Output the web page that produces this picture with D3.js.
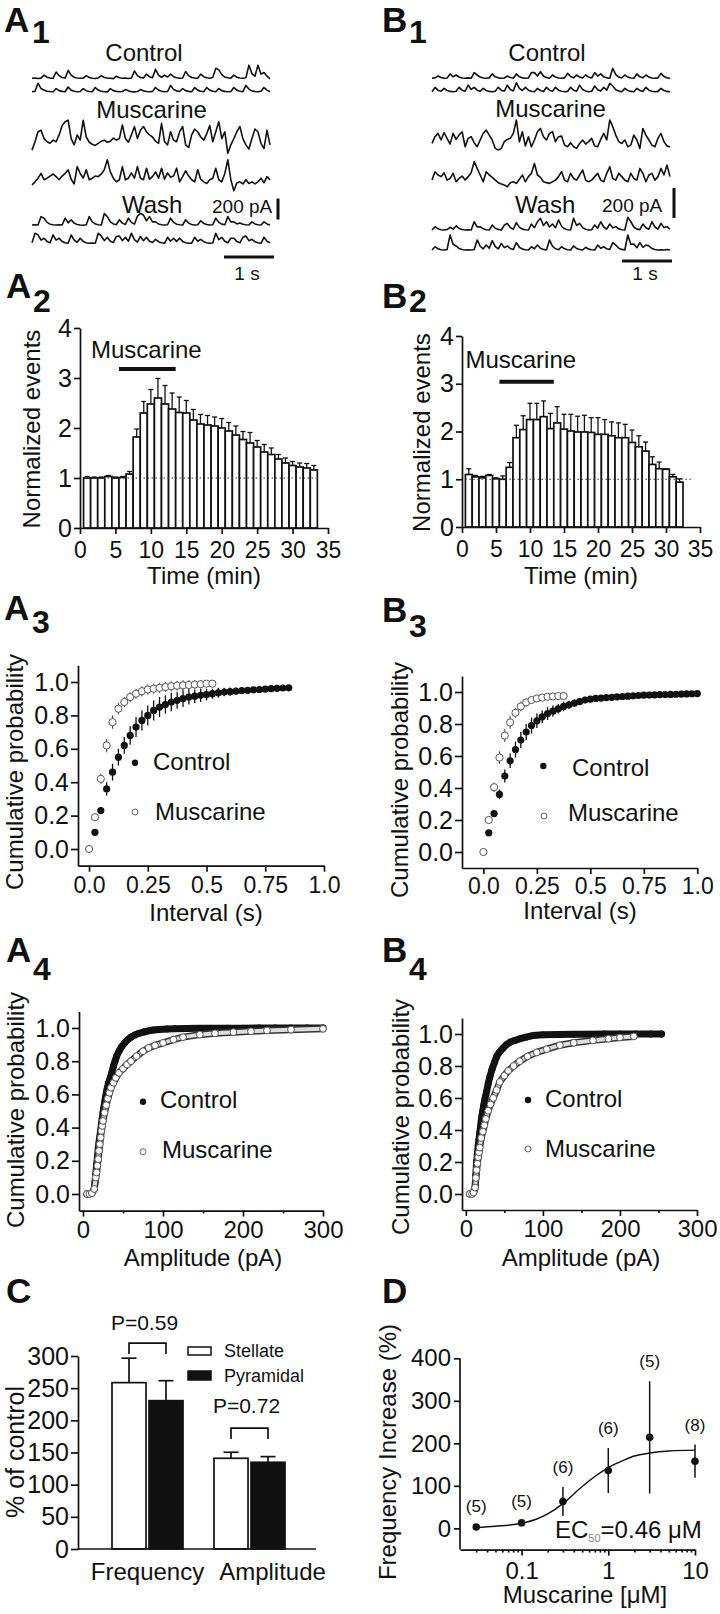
<!DOCTYPE html>
<html>
<head>
<meta charset="utf-8">
<script src="https://cdn.jsdelivr.net/npm/d3@7/dist/d3.min.js"></script>
<style>
html,body{margin:0;padding:0;background:#fff;}
svg{display:block;}
</style>
</head>
<body>
<svg id="fig" width="720" height="1614" xmlns="http://www.w3.org/2000/svg"></svg>
<script>
// ================= DATA =================
// A1 / B1 : example current traces (pA, upward deflection), 80 samples over 4.76 s
const traceDuration = 4.76;
const a1Control1 = [0,3,-2,2,30,10,2,0,60,25,8,2,75,30,10,3,0,2,25,8,0,-2,3,25,8,2,0,-3,20,6,0,2,-2,3,70,25,8,3,40,15,5,85,30,10,30,12,40,15,5,0,3,65,25,8,2,0,40,15,5,0,8,95,80,35,12,5,2,30,10,3,0,5,125,45,20,125,40,55,20,-5];
const a1Control2 = [0,5,80,30,15,5,2,0,30,10,3,0,45,15,5,0,2,30,10,2,0,40,15,5,0,-2,30,10,3,0,2,20,8,0,-2,2,20,8,2,0,3,40,15,5,0,2,60,20,8,2,30,10,3,0,40,15,5,0,40,15,5,0,30,10,3,0,2,40,15,5,0,60,25,8,2,0,5,40,15,0];
const a1Musc1 = [15,95,190,205,125,95,80,110,95,160,250,285,300,125,65,160,110,300,140,90,70,60,80,100,110,90,100,130,110,125,255,125,90,160,240,125,205,240,190,160,140,100,80,270,95,65,190,110,95,190,240,65,40,160,215,190,140,110,170,250,95,190,285,125,190,-15,65,125,190,240,125,65,25,125,215,190,80,30,205,65];
const a1Musc2 = [0,30,65,110,50,65,85,105,80,50,85,110,145,55,10,175,110,65,145,50,65,85,80,105,145,240,125,65,30,50,175,50,65,115,65,175,65,50,160,55,80,125,65,160,55,115,75,85,160,30,80,135,85,50,30,145,55,30,15,50,65,160,50,30,110,240,50,-55,20,30,10,50,15,30,10,30,65,20,80,50];
const a1Wash1 = [0,3,0,80,65,25,8,2,0,3,0,65,20,50,18,5,0,-2,3,80,30,10,3,0,110,80,30,10,3,50,18,5,65,25,8,85,110,95,40,80,30,30,10,3,0,2,65,25,8,2,0,50,18,5,0,2,40,15,5,0,2,65,25,8,3,80,30,30,10,20,8,2,0,30,10,3,0,30,10,0];
const a1Wash2 = [5,95,80,30,48,18,5,80,30,48,18,5,0,80,30,10,48,18,5,0,2,0,95,70,25,57,20,8,65,70,25,57,20,95,35,12,65,25,57,20,8,38,15,5,0,57,20,48,18,48,18,5,0,2,57,20,38,15,5,0,3,95,35,57,20,5,48,48,18,5,57,70,25,38,15,5,0,57,20,5];
const b1Control1 = [0,3,15,5,0,2,29,10,22,8,2,0,3,0,38,22,8,2,0,3,29,10,3,0,2,15,5,0,29,10,3,0,2,38,38,15,44,15,5,0,22,8,2,0,3,33,12,3,22,8,2,22,8,2,38,15,29,10,3,0,67,25,8,2,22,8,2,0,29,10,3,22,8,2,0,3,33,12,3,0];
const b1Control2 = [0,29,10,3,22,8,2,0,3,29,10,3,44,15,29,10,3,22,8,2,0,3,29,10,3,44,15,5,60,22,8,29,10,3,0,22,8,2,29,10,3,29,10,3,0,2,29,10,3,44,15,5,0,3,38,13,4,29,10,55,38,13,4,0,22,8,2,0,22,8,2,29,10,3,0,2,22,8,2,0];
const b1Musc1 = [55,100,122,78,127,89,51,122,82,111,133,33,89,100,60,33,78,122,144,111,78,22,11,22,67,82,89,122,211,67,133,38,100,33,78,133,155,100,78,122,133,67,100,104,44,33,60,33,22,55,78,51,67,89,38,33,82,122,78,211,167,111,67,55,78,33,44,111,78,22,155,111,78,44,33,89,122,67,38,33];
const b1Musc2 = [44,100,78,67,93,44,55,89,33,55,71,44,67,93,167,122,78,33,100,78,62,44,27,18,11,0,27,33,22,49,78,33,67,89,155,78,62,33,27,22,33,44,67,100,44,33,89,55,44,78,111,44,33,44,67,89,44,33,89,133,55,44,89,67,44,33,89,55,44,122,89,33,78,89,44,67,122,78,144,67];
const b1Wash1 = [0,22,8,2,0,3,18,6,27,10,3,0,2,0,55,20,22,8,2,0,33,12,4,0,33,44,16,5,49,18,6,2,0,40,15,55,78,30,55,20,40,15,67,25,8,2,0,78,30,44,16,5,0,2,33,12,55,20,6,40,15,22,8,2,0,84,55,20,6,2,40,15,5,55,20,6,44,16,22,5];
const b1Wash2 = [0,22,8,2,0,3,100,38,27,10,3,0,2,0,3,67,25,8,33,12,62,23,8,44,16,27,10,3,49,18,6,2,0,22,8,33,12,4,0,67,25,8,2,22,8,2,0,27,10,3,0,18,6,2,0,33,12,22,8,3,49,33,12,4,0,100,38,40,15,49,18,33,27,10,3,0,2,0,3,0];

// A2 / B2 : normalized events per minute
const a2Time = [1,2,3,4,5,6,7,8,9,10,11,12,13,14,15,16,17,18,19,20,21,22,23,24,25,26,27,28,29,30,31,32,33];
const a2Mean = [1.0,1.0,1.0,1.03,1.0,1.01,1.08,1.82,2.3,2.48,2.6,2.48,2.38,2.31,2.3,2.16,2.08,2.06,2.04,2.0,1.94,1.86,1.77,1.7,1.62,1.52,1.47,1.38,1.3,1.25,1.22,1.2,1.16];
const a2Sem  = [0.03,0.02,0.02,0.02,0.02,0.02,0.05,0.16,0.23,0.29,0.39,0.37,0.32,0.31,0.25,0.21,0.19,0.19,0.18,0.19,0.17,0.18,0.16,0.21,0.13,0.15,0.13,0.09,0.1,0.08,0.08,0.09,0.09];
const b2Time = [1,2,3,4,5,6,7,8,9,10,11,12,13,14,15,16,17,18,19,20,21,22,23,24,25,26,27,28,29,30,31,32];
const b2Mean = [1.1,1.05,1.03,1.08,1.01,1.0,1.25,1.87,2.04,2.25,2.25,2.31,2.06,2.18,2.05,2.01,1.99,1.99,1.98,1.94,1.94,1.91,1.87,1.87,1.77,1.68,1.59,1.31,1.22,1.21,1.05,0.94];
const b2Sem  = [0.12,0.03,0.03,0.02,0.02,0.07,0.1,0.26,0.29,0.34,0.34,0.33,0.32,0.34,0.31,0.35,0.33,0.35,0.31,0.35,0.31,0.29,0.31,0.28,0.26,0.23,0.19,0.16,0.14,0.01,0.05,0.07];
const muscarineWindow = [5.5, 13.5];
const timeTicks = [0,5,10,15,20,25,30,35];
const eventTicks = [0,1,2,3,4];

// A3 / B3 : cumulative probability of inter-event interval
const a3CtrlInterval = [0.025,0.05,0.075,0.1,0.125,0.15,0.175,0.2,0.225,0.25,0.275,0.3,0.325,0.35,0.375,0.4,0.425,0.45,0.475,0.5,0.525,0.55,0.575,0.6,0.625,0.65,0.675,0.7,0.725,0.75,0.775,0.8,0.825,0.85];
const a3CtrlProb = [0.10,0.23,0.36,0.46,0.55,0.62,0.68,0.73,0.77,0.80,0.83,0.85,0.865,0.88,0.89,0.90,0.91,0.915,0.92,0.925,0.93,0.935,0.94,0.942,0.945,0.948,0.95,0.953,0.955,0.957,0.96,0.962,0.964,0.965];
const a3CtrlSem = [0.01,0.02,0.04,0.05,0.05,0.05,0.055,0.06,0.06,0.06,0.06,0.06,0.055,0.055,0.05,0.05,0.045,0.04,0.04,0.035,0.03,0.03,0.025,0.025,0.02,0.02,0.02,0.015,0.015,0.015,0.01,0.01,0.01,0.01];
const a3MuscInterval = [0,0.025,0.05,0.075,0.1,0.125,0.15,0.175,0.2,0.225,0.25,0.275,0.3,0.325,0.35,0.375,0.4,0.425,0.45,0.475,0.5,0.525];
const a3MuscProb = [0,0.19,0.42,0.62,0.76,0.84,0.88,0.91,0.93,0.945,0.955,0.96,0.965,0.97,0.975,0.978,0.98,0.982,0.985,0.987,0.99,0.99];
const a3MuscSem = [0,0.02,0.03,0.04,0.04,0.035,0.03,0.03,0.03,0.03,0.03,0.03,0.03,0.03,0.03,0.03,0.03,0.03,0.025,0.025,0.02,0.02];
const b3CtrlInterval = [0.025,0.05,0.075,0.1,0.125,0.15,0.175,0.2,0.225,0.25,0.275,0.3,0.325,0.35,0.375,0.4,0.425,0.45,0.475,0.5,0.525,0.55,0.575,0.6,0.625,0.65,0.675,0.7,0.725,0.75,0.775,0.8,0.825,0.85,0.875,0.9,0.925,0.95,0.975,1.0];
const b3CtrlProb = [0.12,0.24,0.36,0.475,0.57,0.64,0.70,0.75,0.79,0.82,0.845,0.865,0.88,0.895,0.91,0.92,0.93,0.94,0.95,0.955,0.96,0.962,0.965,0.967,0.97,0.972,0.974,0.976,0.978,0.98,0.981,0.982,0.983,0.984,0.985,0.986,0.987,0.988,0.989,0.99];
const b3CtrlSem = [0.01,0.02,0.03,0.04,0.045,0.05,0.05,0.05,0.05,0.045,0.04,0.04,0.035,0.03,0.03,0.025,0.02,0.02,0.02,0.015,0.015,0.015,0.012,0.012,0.01,0.01,0.01,0.01,0.01,0.01,0.008,0.008,0.008,0.008,0.008,0.006,0.006,0.006,0.006,0.006];
const b3MuscInterval = [0,0.025,0.05,0.075,0.1,0.125,0.15,0.175,0.2,0.225,0.25,0.275,0.3,0.325,0.35,0.375];
const b3MuscProb = [0,0.2,0.405,0.59,0.727,0.81,0.87,0.91,0.935,0.95,0.96,0.965,0.97,0.972,0.975,0.975];
const b3MuscSem = [0,0.02,0.03,0.04,0.04,0.04,0.03,0.03,0.025,0.02,0.02,0.015,0.015,0.01,0.01,0.01];
const intervalTicks = [0,0.25,0.5,0.75,1.0];
const intervalTickLabels = ["0.0","0.25","0.5","0.75","1.0"];
const probTicks = [0,0.2,0.4,0.6,0.8,1.0];

// A4 / B4 : cumulative probability of amplitude
const a4CtrlAmp = [5,8,11,14,16,17,18,19,20,21,22,23,24,25,26,27,28,30,32,34,36,38,40,42,45,48,52,56,60,65,70,76,82,88,95,105,115,130,145,160,180,200,220,240,260,280,300];
const a4CtrlProb = [0,0,0.005,0.03,0.12,0.175,0.22,0.27,0.31,0.345,0.38,0.42,0.455,0.49,0.52,0.55,0.58,0.63,0.67,0.70,0.73,0.77,0.80,0.83,0.86,0.885,0.91,0.93,0.945,0.958,0.968,0.976,0.983,0.988,0.991,0.994,0.996,0.997,0.998,0.998,0.999,0.999,1,1,1,1,1];
const a4MuscAmp = [5,8,11,14,16,17,18,19,20,21,22,23,24,25,27,29,31,33,35,38,41,45,50,55,60,67,75,82,90,100,113,125,146,165,188,210,230,260,300];
const a4MuscProb = [0,0,0.005,0.03,0.1,0.13,0.17,0.21,0.26,0.3,0.34,0.38,0.41,0.44,0.49,0.535,0.575,0.61,0.64,0.67,0.7,0.73,0.755,0.78,0.8,0.83,0.86,0.88,0.895,0.91,0.93,0.945,0.96,0.968,0.975,0.98,0.985,0.99,0.995];
const b4CtrlAmp = [5,8,10,12,13,14,15,16,17,18,19,20,21,22,23,25,27,29,31,34,37,40,44,48,53,58,64,70,78,87,100,120,140,160,180,200,220,240,254];
const b4CtrlProb = [0,0,0.01,0.04,0.12,0.2,0.25,0.3,0.34,0.38,0.42,0.46,0.49,0.52,0.55,0.6,0.64,0.69,0.73,0.78,0.82,0.86,0.89,0.91,0.935,0.95,0.96,0.97,0.98,0.99,0.995,0.997,0.998,0.999,1,1,1,1,1];
const b4MuscAmp = [5,8,10,12,13,14,15,16,17,18,20,22,24,26,29,32,35.5,40,44,50,55,62,70,80,92,105,122,140,165,185,200,218];
const b4MuscProb = [0,0,0.01,0.04,0.1,0.15,0.19,0.23,0.26,0.29,0.35,0.39,0.43,0.47,0.52,0.56,0.6,0.65,0.7,0.74,0.77,0.8,0.83,0.86,0.885,0.905,0.93,0.945,0.96,0.97,0.978,0.985];
const ampTicks = [0,100,200,300];
const ampMinorTicks = [50,150,250];

// C : % of control
const cCategories = ["Frequency","Amplitude"];
const cSeries = ["Stellate","Pyramidal"];
const cStellate = [258.6,141];
const cStellateSem = [38,9.4];
const cPyramidal = [230.6,134.8];
const cPyramidalSem = [31,8.8];
const cPValues = ["P=0.59","P=0.72"];
const cTicks = [0,50,100,150,200,250,300];

// D : concentration-response
const dConc = [0.03,0.1,0.3,1,3,10];
const dMean = [3,13,63,136,214,158];
const dSem = [3,5,34,53,132,39];
const dN = ["(5)","(5)","(6)","(6)","(5)","(8)"];
const dFitConc = [0.03,0.05,0.1,0.15,0.2,0.3,0.46,0.7,1,1.5,2,3,5,10];
const dFitValue = [2,5,12,22,34,58,92,122,143,160,170,177,182,184];
const dTicks = [0.1,1,10];
const dTickLabels = ["0.1","1","10"];
const dYTicks = [0,100,200,300,400];

// ================= DRAWING =================
const svg = d3.select("#fig");
const FONT = "'Liberation Sans', Arial, Helvetica, sans-serif";
const INK = "#111";
svg.append("rect").attr("width",720).attr("height",1614).attr("fill","#fff");

function text(x, y, s, size, anchor, weight) {
  return svg.append("text").attr("x", x).attr("y", y)
    .attr("font-family", FONT).attr("font-size", size)
    .attr("fill", INK).attr("text-anchor", anchor || "start")
    .attr("font-weight", weight || "normal").text(s);
}
function rotText(cx, cy, s, size) {
  return svg.append("text").attr("transform", `translate(${cx},${cy}) rotate(-90)`)
    .attr("font-family", FONT).attr("font-size", size).attr("fill", INK)
    .attr("text-anchor", "middle").attr("dy", "0.35em").text(s);
}
function panelLabel(lx, ly, letter, sub, sx, sy) {
  text(lx, ly, letter, 35, "start", "bold");
  if (sub) text(sx, sy, sub, 32, "start", "bold");
}
function styleAxis(g, size) {
  g.attr("font-family", FONT).attr("font-size", size);
  g.select(".domain").attr("stroke", INK).attr("stroke-width", 1.7);
  g.selectAll(".tick line").attr("stroke", INK).attr("stroke-width", 1.7);
  g.selectAll(".tick text").attr("fill", INK);
}

// ---------- A1 / B1 traces ----------
function drawTrace(values, x0, x1, baseY, pxPerPA) {
  const t = d3.scaleLinear().domain([0, traceDuration]).range([x0, x1]);
  const v = d3.scaleLinear().domain([0, 200]).range([baseY, baseY - 200 * pxPerPA]);
  const dt = traceDuration / (values.length - 1);
  const line = d3.line().x((d, i) => t(i * dt)).y(d => v(d));
  svg.append("path").attr("d", line(values)).attr("fill", "none")
    .attr("stroke", INK).attr("stroke-width", 1.6).attr("stroke-linejoin", "round");
  return { t, v };
}
function tracePanel(cfg) {
  let sc;
  cfg.traces.forEach((tr, i) => { sc = drawTrace(tr, cfg.x0, cfg.x1, cfg.bases[i], cfg.pxPerPA); });
  text(cfg.controlX, 61, "Control", 24, "middle");
  text(cfg.muscX, cfg.muscY, "Muscarine", 24, "middle");
  text(cfg.washX, 213, "Wash", 24, "start");
  text(cfg.pAX, cfg.pAY, "200 pA", 19, "start");
  const vb = sc.v(0) - sc.v(200);
  svg.append("line").attr("x1", cfg.vbarX).attr("x2", cfg.vbarX)
    .attr("y1", cfg.vbarBottom).attr("y2", cfg.vbarBottom - vb)
    .attr("stroke", INK).attr("stroke-width", 3);
  const hb = sc.t(1) - sc.t(0);
  svg.append("line").attr("x1", cfg.hbarX).attr("x2", cfg.hbarX + hb)
    .attr("y1", cfg.hbarY).attr("y2", cfg.hbarY)
    .attr("stroke", INK).attr("stroke-width", 3);
  text(cfg.hbarX + hb / 2 - 2, 280, "1 s", 19, "middle");
}
tracePanel({
  traces: [a1Control1, a1Control2, a1Musc1, a1Musc2, a1Wash1, a1Wash2],
  x0: 32, x1: 270, bases: [78.3, 91.7, 151.7, 185, 225, 243.3], pxPerPA: 0.105,
  controlX: 144, muscX: 151.5, muscY: 118, washX: 122, pAX: 212, pAY: 213,
  vbarX: 278, vbarBottom: 219.5, hbarX: 224, hbarY: 257
});
tracePanel({
  traces: [b1Control1, b1Control2, b1Musc1, b1Musc2, b1Wash1, b1Wash2],
  x0: 432, x1: 670, bases: [78.3, 91.7, 151.7, 186.7, 230, 250], pxPerPA: 0.15,
  controlX: 547, muscX: 550.5, muscY: 117, washX: 515, pAX: 602, pAY: 212,
  vbarX: 674, vbarBottom: 218, hbarX: 622, hbarY: 261
});
panelLabel(4, 32, "A", "1", 32, 43);
panelLabel(382, 32, "B", "1", 409, 43);

// ---------- A2 / B2 ----------
function eventsPanel(cfg) {
  const x = d3.scaleLinear().domain([0, 35]).range(cfg.xr);
  const y = d3.scaleLinear().domain([0, 4]).range(cfg.yr);
  const g = svg.append("g");
  g.selectAll("rect").data(cfg.mean).join("rect")
    .attr("x", (d, i) => x(cfg.time[i] - 0.5))
    .attr("width", (d, i) => x(cfg.time[i] + 0.5) - x(cfg.time[i] - 0.5))
    .attr("y", d => y(d)).attr("height", d => y(0) - y(d))
    .attr("fill", "#fff").attr("stroke", INK).attr("stroke-width", 1.7);
  g.selectAll("line.err").data(cfg.mean).join("line").attr("class", "err")
    .attr("x1", (d, i) => x(cfg.time[i])).attr("x2", (d, i) => x(cfg.time[i]))
    .attr("y1", d => y(d)).attr("y2", (d, i) => y(d + cfg.sem[i]))
    .attr("stroke", INK).attr("stroke-width", 1.3);
  g.selectAll("line.cap").data(cfg.mean).join("line").attr("class", "cap")
    .attr("x1", (d, i) => x(cfg.time[i]) - 2.5).attr("x2", (d, i) => x(cfg.time[i]) + 2.5)
    .attr("y1", (d, i) => y(d + cfg.sem[i])).attr("y2", (d, i) => y(d + cfg.sem[i]))
    .attr("stroke", INK).attr("stroke-width", 1.3);
  g.append("line").attr("x1", x(0.5)).attr("x2", x(cfg.dotEnd))
    .attr("y1", y(1)).attr("y2", y(1))
    .attr("stroke", "#333").attr("stroke-width", 1.2).attr("stroke-dasharray", "1.5,2.5");
  g.append("line").attr("x1", x(muscarineWindow[0])).attr("x2", x(muscarineWindow[1]))
    .attr("y1", y(cfg.barLevel)).attr("y2", y(cfg.barLevel))
    .attr("stroke", INK).attr("stroke-width", 4);
  text(x(muscarineWindow[0]) + cfg.lblDx, y(cfg.barLevel) + cfg.lblDy, "Muscarine", 24, "start");
  const gx = svg.append("g").attr("transform", `translate(0,${cfg.yr[0]})`)
    .call(d3.axisBottom(x).tickValues(timeTicks).tickSize(6).tickPadding(8).tickSizeOuter(0));
  styleAxis(gx, 23);
  const gy = svg.append("g").attr("transform", `translate(${cfg.xr[0]},0)`)
    .call(d3.axisLeft(y).tickValues(eventTicks).tickFormat(d3.format("d"))
      .tickSize(6).tickPadding(2).tickSizeOuter(0));
  styleAxis(gy, 25);
  text((cfg.xr[0] + cfg.xr[1]) / 2, 584, "Time (min)", 24, "middle");
  rotText(cfg.ylx, (cfg.yr[0] + cfg.yr[1]) / 2 + 1, "Normalized events", 24);
}
eventsPanel({ time: a2Time, mean: a2Mean, sem: a2Sem, xr: [80, 328], yr: [528, 328],
  dotEnd: 33.3, barLevel: 3.18, lblDx: -28, lblDy: -11, ylx: 32 });
eventsPanel({ time: b2Time, mean: b2Mean, sem: b2Sem, xr: [462, 700], yr: [527, 336],
  dotEnd: 34, barLevel: 3.04, lblDx: -34, lblDy: -14, ylx: 422 });
panelLabel(6, 298, "A", "2", 33, 312);
panelLabel(382, 308, "B", "2", 409, 312);

// ---------- cumulative panels ----------
function cumPanel(cfg) {
  const x = d3.scaleLinear().domain(cfg.xDom).range(cfg.xr);
  const y = d3.scaleLinear().domain([-0.1, 1.1]).range(cfg.yr);
  const g = svg.append("g");
  const ctrl = cfg.ctrlX.map((v, i) => ({ x: v, y: cfg.ctrlY[i], e: cfg.ctrlE ? cfg.ctrlE[i] : 0 }));
  const musc = cfg.muscX.map((v, i) => ({ x: v, y: cfg.muscY[i], e: cfg.muscE ? cfg.muscE[i] : 0 }));
  const line = d3.line().x(d => x(d.x)).y(d => y(d.y));
  if (cfg.dense) {
    g.append("path").attr("d", line(ctrl)).attr("fill", "none").attr("stroke", INK)
      .attr("stroke-width", 7).attr("stroke-linejoin", "round").attr("stroke-linecap", "round");
  }
  if (cfg.ctrlE) {
    g.selectAll("line.ce").data(ctrl).join("line").attr("class", "ce")
      .attr("x1", d => x(d.x)).attr("x2", d => x(d.x))
      .attr("y1", d => y(d.y - d.e)).attr("y2", d => y(d.y + d.e))
      .attr("stroke", INK).attr("stroke-width", 1.3);
  }
  g.selectAll("circle.c").data(ctrl).join("circle").attr("class", "c")
    .attr("cx", d => x(d.x)).attr("cy", d => y(d.y)).attr("r", cfg.r).attr("fill", INK);
  if (cfg.dense) {
    g.append("path").attr("d", line(musc)).attr("fill", "none").attr("stroke", "#333")
      .attr("stroke-width", 7).attr("stroke-linejoin", "round").attr("stroke-linecap", "round");
    g.append("path").attr("d", line(musc)).attr("fill", "none").attr("stroke", "#ddd")
      .attr("stroke-width", 4).attr("stroke-linejoin", "round").attr("stroke-linecap", "round");
  }
  if (cfg.muscE) {
    g.selectAll("line.me").data(musc).join("line").attr("class", "me")
      .attr("x1", d => x(d.x)).attr("x2", d => x(d.x))
      .attr("y1", d => y(d.y - d.e)).attr("y2", d => y(d.y + d.e))
      .attr("stroke", "#444").attr("stroke-width", 1.1);
  }
  g.selectAll("circle.m").data(musc).join("circle").attr("class", "m")
    .attr("cx", d => x(d.x)).attr("cy", d => y(d.y)).attr("r", cfg.r)
    .attr("fill", "#fff").attr("stroke", "#555").attr("stroke-width", 1);
  const gx = svg.append("g").attr("transform", `translate(0,${cfg.yr[0]})`)
    .call(d3.axisBottom(x).tickValues(cfg.xTicks).tickFormat((d, i) => cfg.xTickLabels[i])
      .tickSize(6).tickPadding(cfg.xPad).tickSizeOuter(0));
  styleAxis(gx, cfg.xFont);
  if (cfg.xMinor) {
    const gm = svg.append("g").attr("transform", `translate(0,${cfg.yr[0]})`)
      .call(d3.axisBottom(x).tickValues(cfg.xMinor).tickFormat("").tickSize(3).tickSizeOuter(0));
    styleAxis(gm, 10);
    gm.select(".domain").remove();
  }
  const gy = svg.append("g").attr("transform", `translate(${cfg.xr[0]},0)`)
    .call(d3.axisLeft(y).tickValues(probTicks).tickFormat(d3.format(".1f"))
      .tickSize(7).tickPadding(2).tickSizeOuter(0));
  styleAxis(gy, 25);
  text(cfg.xlx, cfg.xly, cfg.xLabel, 24, "middle");
  rotText(cfg.ylx, cfg.yly, "Cumulative probability", 24);
  svg.append("circle").attr("cx", cfg.leg[0]).attr("cy", cfg.leg[1]).attr("r", 3.2).attr("fill", INK);
  text(cfg.leg[2], cfg.leg[3], "Control", 24, "start");
  svg.append("circle").attr("cx", cfg.leg[4]).attr("cy", cfg.leg[5]).attr("r", 3)
    .attr("fill", "#fff").attr("stroke", "#666").attr("stroke-width", 1);
  text(cfg.leg[6], cfg.leg[7], "Muscarine", 24, "start");
}
cumPanel({ xDom: [-0.047, 1], xr: [78, 324], yr: [865.7, 665.3], r: 3.6,
  ctrlX: a3CtrlInterval, ctrlY: a3CtrlProb, ctrlE: a3CtrlSem,
  muscX: a3MuscInterval, muscY: a3MuscProb, muscE: a3MuscSem,
  xTicks: intervalTicks, xTickLabels: intervalTickLabels, xPad: 5, xFont: 23,
  xLabel: "Interval (s)", xlx: 206, xly: 921, ylx: 15, yly: 772,
  leg: [135, 762.7, 153, 770, 135, 812, 155, 820] });
cumPanel({ xDom: [-0.1, 1], xr: [462, 697.3], yr: [868, 676], r: 3.6,
  ctrlX: b3CtrlInterval, ctrlY: b3CtrlProb, ctrlE: b3CtrlSem,
  muscX: b3MuscInterval, muscY: b3MuscProb, muscE: b3MuscSem,
  xTicks: intervalTicks, xTickLabels: intervalTickLabels, xPad: 4, xFont: 23,
  xLabel: "Interval (s)", xlx: 580, xly: 919, ylx: 400, yly: 780,
  leg: [543.3, 766, 572, 776, 544, 816, 568, 821] });
cumPanel({ xDom: [-5, 300], xr: [79, 323], yr: [1210.6, 1011.4], r: 3.4, dense: true,
  ctrlX: a4CtrlAmp, ctrlY: a4CtrlProb, muscX: a4MuscAmp, muscY: a4MuscProb,
  xTicks: ampTicks, xTickLabels: ampTicks.map(String), xMinor: ampMinorTicks, xPad: 4, xFont: 24,
  xLabel: "Amplitude (pA)", xlx: 203, xly: 1266, ylx: 16, yly: 1110,
  leg: [143, 1101.7, 160, 1108, 143, 1151.7, 162, 1158] });
cumPanel({ xDom: [-5, 300], xr: [462, 697], yr: [1210, 1018], r: 3.4, dense: true,
  ctrlX: b4CtrlAmp, ctrlY: b4CtrlProb, muscX: b4MuscAmp, muscY: b4MuscProb,
  xTicks: ampTicks, xTickLabels: ampTicks.map(String), xMinor: ampMinorTicks, xPad: 4, xFont: 24,
  xLabel: "Amplitude (pA)", xlx: 581, xly: 1266, ylx: 401, yly: 1117,
  leg: [528, 1100, 545, 1107, 528, 1149, 545, 1157] });
panelLabel(4, 620, "A", "3", 32, 633);
panelLabel(382, 622, "B", "3", 409, 637);
panelLabel(6, 962, "A", "4", 33, 980);
panelLabel(382, 962, "B", "4", 409, 980);

// ---------- C ----------
(function () {
  const y = d3.scaleLinear().domain([0, 300]).range([1549, 1356]);
  const xc = d3.scalePoint().domain(cCategories).range([147.5, 249.5]);
  const xs = d3.scaleBand().domain(cSeries).range([-35.5, 35.5]).paddingInner(0.08);
  const rows = [];
  cCategories.forEach((c, i) => {
    rows.push({ c, s: "Stellate", v: cStellate[i], e: cStellateSem[i] });
    rows.push({ c, s: "Pyramidal", v: cPyramidal[i], e: cPyramidalSem[i] });
  });
  const cx = d => xc(d.c) + xs(d.s) + xs.bandwidth() / 2;
  const g = svg.append("g");
  g.selectAll("line.e").data(rows).join("line").attr("class", "e")
    .attr("x1", cx).attr("x2", cx).attr("y1", d => y(d.v)).attr("y2", d => y(d.v + d.e))
    .attr("stroke", INK).attr("stroke-width", 1.7);
  g.selectAll("line.cap").data(rows).join("line").attr("class", "cap")
    .attr("x1", d => cx(d) - 7.5).attr("x2", d => cx(d) + 7.5)
    .attr("y1", d => y(d.v + d.e)).attr("y2", d => y(d.v + d.e))
    .attr("stroke", INK).attr("stroke-width", 1.7);
  g.selectAll("rect").data(rows).join("rect")
    .attr("x", d => xc(d.c) + xs(d.s)).attr("width", xs.bandwidth())
    .attr("y", d => y(d.v)).attr("height", d => y(0) - y(d.v))
    .attr("fill", d => d.s === "Stellate" ? "#fff" : INK)
    .attr("stroke", INK).attr("stroke-width", 1.7);
  const bracketLevel = [320, 188], legLevel = [303, 171], labelLevel = [340.6, 211.5];
  cCategories.forEach((c, i) => {
    const xa = xc(c) + xs("Stellate") + xs.bandwidth() / 2;
    const xb = xc(c) + xs("Pyramidal") + xs.bandwidth() / 2;
    svg.append("path").attr("d", `M${xa},${y(legLevel[i])}V${y(bracketLevel[i])}H${xb}V${y(legLevel[i])}`)
      .attr("fill", "none").attr("stroke", INK).attr("stroke-width", 1.7);
    text((xa + xb) / 2 - 3, y(labelLevel[i]), cPValues[i], 21, "middle");
  });
  const gy = svg.append("g").attr("transform", "translate(78,0)")
    .call(d3.axisLeft(y).tickValues(cTicks).tickSize(7).tickPadding(2).tickSizeOuter(0));
  styleAxis(gy, 25);
  svg.append("line").attr("x1", 78).attr("x2", 316).attr("y1", y(0)).attr("y2", y(0))
    .attr("stroke", INK).attr("stroke-width", 1.7);
  const shift = [0, 23];
  cCategories.forEach((c, i) => text(xc(c) + shift[i], 1580, c, 24, "middle"));
  rotText(15, 1452, "% of control", 25);
  svg.append("rect").attr("x", 188).attr("y", 1347).attr("width", 23).attr("height", 8)
    .attr("fill", "#fff").attr("stroke", INK).attr("stroke-width", 1.5);
  text(224, 1357, cSeries[0], 18, "start");
  svg.append("rect").attr("x", 188).attr("y", 1371).attr("width", 23).attr("height", 9)
    .attr("fill", INK).attr("stroke", INK).attr("stroke-width", 1.5);
  text(224, 1382, cSeries[1], 18, "start");
  panelLabel(6, 1303, "C");
})();

// ---------- D ----------
(function () {
  const x = d3.scaleLog().domain([0.0195, 10]).range([460, 695]);
  const y = d3.scaleLinear().domain([-50, 400]).range([1549.6, 1358.3]);
  const g = svg.append("g");
  const fit = dFitConc.map((c, i) => [c, dFitValue[i]]);
  g.append("path").attr("d", d3.line().x(d => x(d[0])).y(d => y(d[1])).curve(d3.curveMonotoneX)(fit))
    .attr("fill", "none").attr("stroke", INK).attr("stroke-width", 1.5);
  const pts = dConc.map((c, i) => ({ c, m: dMean[i], e: dSem[i], n: dN[i] }));
  g.selectAll("line.e").data(pts).join("line").attr("class", "e")
    .attr("x1", d => x(d.c)).attr("x2", d => x(d.c))
    .attr("y1", d => y(d.m - d.e)).attr("y2", d => y(d.m + d.e))
    .attr("stroke", INK).attr("stroke-width", 1.5);
  g.selectAll("circle").data(pts).join("circle")
    .attr("cx", d => x(d.c)).attr("cy", d => y(d.m)).attr("r", 3.8).attr("fill", INK);
  g.selectAll("text").data(pts).join("text")
    .attr("x", d => x(d.c)).attr("y", d => y(d.m + d.e) - 14)
    .attr("text-anchor", "middle").attr("font-family", FONT).attr("font-size", 17)
    .attr("fill", INK).text(d => d.n);
  const gx = svg.append("g").attr("transform", `translate(0,${y(-50)})`)
    .call(d3.axisBottom(x).tickValues(dTicks).tickFormat((d, i) => dTickLabels[i])
      .tickSize(6).tickPadding(6).tickSizeOuter(0));
  styleAxis(gx, 24);
  const minor = x.ticks().filter(v => dTicks.indexOf(v) < 0 && v > 0.021);
  const gm = svg.append("g").attr("transform", `translate(0,${y(-50)})`)
    .call(d3.axisBottom(x).tickValues(minor).tickFormat("").tickSize(3).tickSizeOuter(0));
  styleAxis(gm, 10);
  gm.select(".domain").remove();
  const gy = svg.append("g").attr("transform", "translate(460,0)")
    .call(d3.axisLeft(y).tickValues(dYTicks).tickSize(6).tickPadding(3).tickSizeOuter(0));
  styleAxis(gy, 24);
  gy.select(".domain").attr("d", `M0,${y(-50)}V${y(400)}`);
  rotText(388, 1452, "Frequency Increase (%)", 24);
  text(585, 1603, "Muscarine [μM]", 24, "middle");
  const ec = svg.append("text").attr("x", 555).attr("y", 1538)
    .attr("font-family", FONT).attr("font-size", 24).attr("fill", INK);
  ec.append("tspan").text("EC");
  ec.append("tspan").attr("font-size", 11).attr("fill", "#888").attr("dy", 4).text("50");
  ec.append("tspan").attr("dy", -4).text("=0.46 μM");
  panelLabel(382, 1303, "D");
})();
</script>
</body>
</html>
